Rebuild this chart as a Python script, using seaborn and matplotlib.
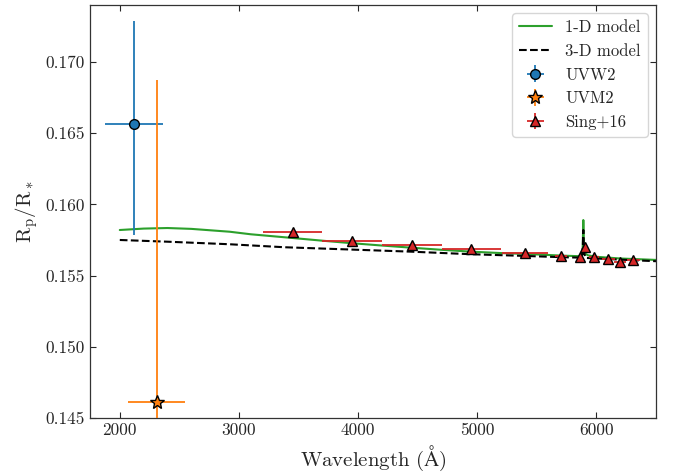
import numpy as np
import pandas as pd
import matplotlib
matplotlib.use("Agg")
import matplotlib.pyplot as plt
import seaborn as sns

# ---------------- data ----------------
# 1-D model
m1_wl = [2000, 2200, 2400, 2600, 2922, 3100, 3383, 3700, 3953, 4200, 4445, 4700,
         4948, 5200, 5409, 5716, 5860, 5884, 5890, 5896, 5905, 5930, 6000, 6200, 6500]
m1_val = [0.15820, 0.15830, 0.15834, 0.15828, 0.15808, 0.15790, 0.15769, 0.15745,
          0.15727, 0.15711, 0.15696, 0.15681, 0.15668, 0.15658, 0.15652, 0.15640,
          0.15636, 0.15660, 0.15890, 0.15700, 0.15655, 0.15642, 0.15632, 0.15620, 0.15610]
# 3-D model
m3_wl = [2000, 2400, 2922, 3383, 3900, 4445, 4948, 5400, 5716, 5870, 5884, 5890,
         5896, 5910, 6000, 6250, 6500]
m3_val = [0.15750, 0.15738, 0.15720, 0.15699, 0.15684, 0.15668, 0.15650, 0.15638,
          0.15629, 0.15626, 0.15650, 0.15820, 0.15660, 0.15624, 0.15620, 0.15610, 0.15601]

# UVW2
uvw2_wl = [2120]
uvw2_val = [0.16565]
uvw2_xerr = [245]
uvw2_yerr_lo = [0.0078]
uvw2_yerr_hi = [0.0072]

# UVM2
uvm2_wl = [2310]
uvm2_val = [0.14615]
uvm2_xerr = [237]
uvm2_yerr = [0.0226]

# Sing+16
sing_wl = [3450, 3950, 4450, 4950, 5400, 5700, 5860, 5900, 5980, 6100, 6200, 6310]
sing_val = [0.15808, 0.15745, 0.15715, 0.15690, 0.15662, 0.15639, 0.15632, 0.15698,
            0.15628, 0.15616, 0.15597, 0.15609]
sing_xerr = [250, 250, 250, 250, 195, 50, 15, 10, 40, 55, 50, 55]
sing_yerr = [0.00004, 0.00004, 0.00004, 0.00004, 0.00004, 0.00004, 0.00004,
             0.00004, 0.00004, 0.00004, 0.00004, 0.00004]

xticks = [2000, 3000, 4000, 5000, 6000]
yticks = [0.145, 0.150, 0.155, 0.160, 0.165, 0.170]

# ---------------- style ----------------
sns.set_style("ticks")
plt.rcParams["font.family"] = ["cmr10", "DejaVu Serif"]
plt.rcParams["mathtext.fontset"] = "cm"
plt.rcParams["axes.formatter.use_mathtext"] = True
plt.rcParams["axes.unicode_minus"] = False

fig = plt.figure(figsize=(6.76, 4.73), dpi=100)
ax = fig.add_axes([90 / 676, 55 / 473, (656 - 90) / 676, (418 - 5) / 473])

df1 = pd.DataFrame({"wl": m1_wl, "val": m1_val})
df3 = pd.DataFrame({"wl": m3_wl, "val": m3_val})
sns.lineplot(data=df1, x="wl", y="val", ax=ax, color="#2ca02c", lw=1.5,
             label="1-D model", estimator=None)
sns.lineplot(data=df3, x="wl", y="val", ax=ax, color="black", lw=1.5,
             linestyle="--", label="3-D model", estimator=None)

ax.errorbar(uvw2_wl, uvw2_val, xerr=uvw2_xerr, yerr=[uvw2_yerr_lo, uvw2_yerr_hi],
            fmt="o", color="#1f77b4", mec="black", ms=7, elinewidth=1.3,
            label="UVW2", zorder=4)
ax.errorbar(uvm2_wl, uvm2_val, xerr=uvm2_xerr, yerr=uvm2_yerr,
            fmt="*", color="#ff7f0e", mec="black", ms=10, elinewidth=1.3,
            label="UVM2", zorder=4)
ax.errorbar(sing_wl, sing_val, xerr=sing_xerr, yerr=sing_yerr,
            fmt="^", color="#d62728", mec="black", ms=7.5, elinewidth=1.3,
            label="Sing+16", zorder=3)

ax.set_xlim(1750, 6500)
ax.set_ylim(0.145, 0.174)
ax.set_xticks(xticks)
ax.set_yticks(yticks)
ax.set_xticklabels([str(t) for t in xticks])
ax.set_yticklabels(["%.3f" % t for t in yticks])
ax.tick_params(direction="in", top=True, right=True, labelsize=12.5, length=4)
ax.set_xlabel(r"Wavelength ($\mathrm{\AA}$)", fontsize=15)
ax.set_ylabel(r"$\mathrm{R_p/R_*}$", fontsize=15)
for s in ax.spines.values():
    s.set_linewidth(0.9)
    s.set_color("#333333")

ax.legend(loc="upper right", fontsize=12, frameon=True, fancybox=True)

fig.savefig("out.png", dpi=100)
